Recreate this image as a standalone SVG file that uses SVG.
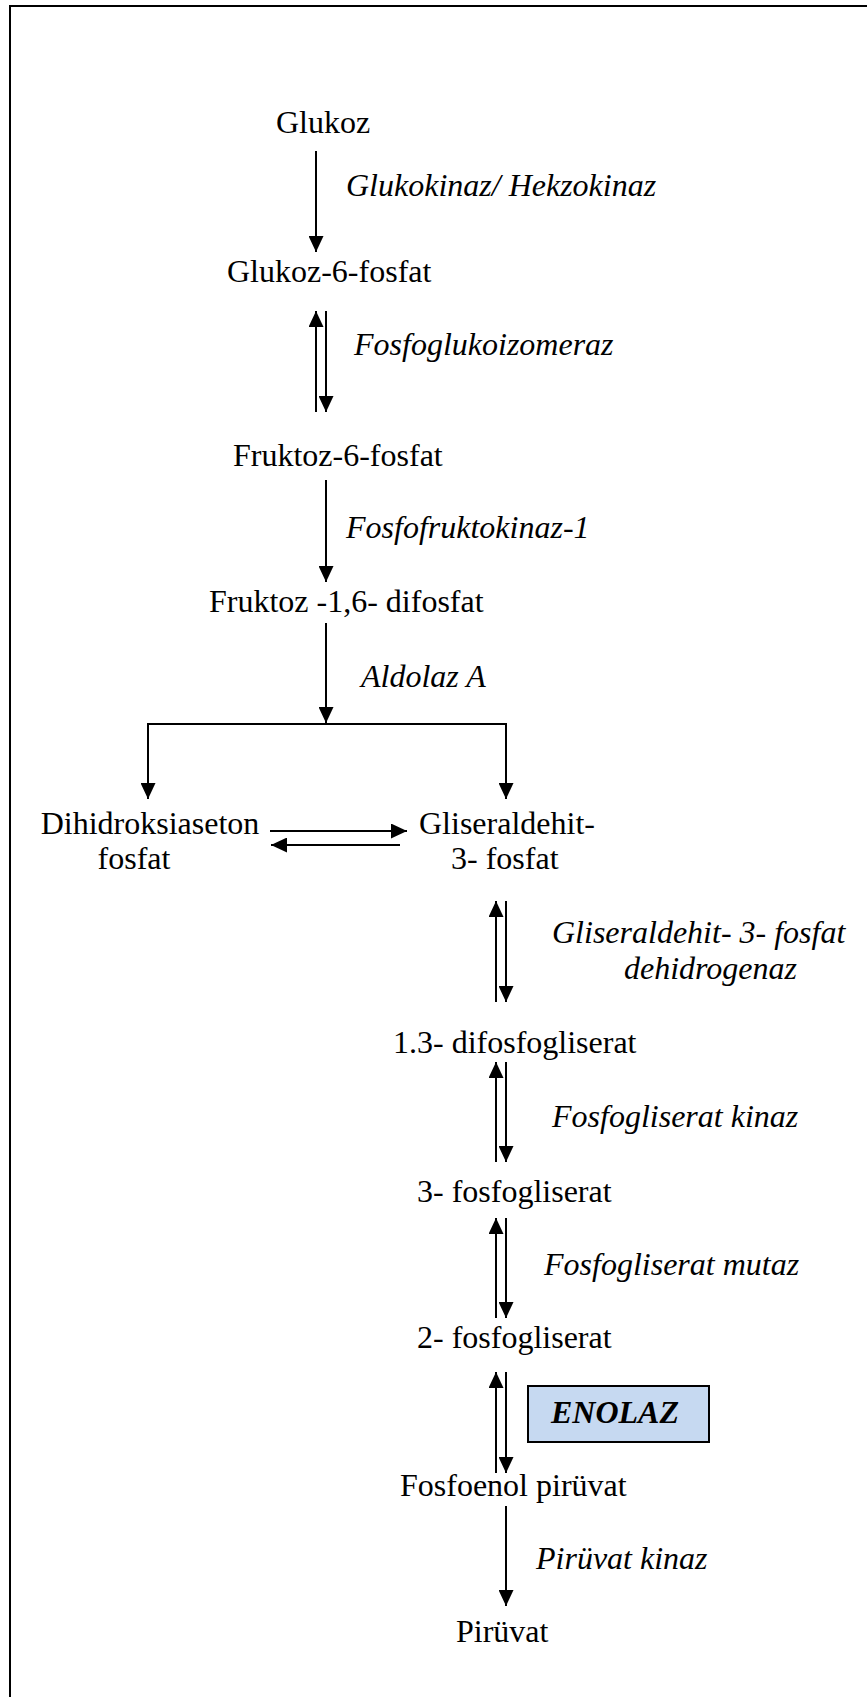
<svg xmlns="http://www.w3.org/2000/svg" width="867" height="1697" viewBox="0 0 867 1697">
<style>
text{font-family:"Liberation Serif","Times New Roman",serif;font-size:32px;fill:#000}
.enz{font-style:italic}
.line{stroke:#000;stroke-width:2;fill:none}
</style>
<defs>
<marker id="ah" viewBox="0 0 16 15" refX="16" refY="7.5" markerWidth="16" markerHeight="15" markerUnits="userSpaceOnUse" orient="auto">
<path d="M0,0 L16,7.5 L0,15 Z" fill="#000"/>
</marker>
</defs>
<rect x="10" y="6" width="900" height="1750" fill="#fff" stroke="#000" stroke-width="2"/>
<g id="glukoz"><text x="276" y="133">Glukoz</text></g>
<g id="g6p"><text x="227" y="282">Glukoz-6-fosfat</text></g>
<g id="f6p"><text x="233" y="466">Fruktoz-6-fosfat</text></g>
<g id="f16bp"><text x="209" y="612">Fruktoz -1,6- difosfat</text></g>
<g id="dhap"><text x="150" y="834" text-anchor="middle">Dihidroksiaseton</text><text x="134" y="869" text-anchor="middle">fosfat</text></g>
<g id="g3p"><text x="419" y="834">Gliseraldehit-</text><text x="451" y="869">3- fosfat</text></g>
<g id="bpg"><text x="393" y="1053">1.3- difosfogliserat</text></g>
<g id="pg3"><text x="417" y="1202">3- fosfogliserat</text></g>
<g id="pg2"><text x="417" y="1348">2- fosfogliserat</text></g>
<g id="pep"><text x="400" y="1496">Fosfoenol pirüvat</text></g>
<g id="piruvat"><text x="456" y="1642">Pirüvat</text></g>
<g id="enzymes">
<text class="enz" x="346" y="196">Glukokinaz/ Hekzokinaz</text>
<text class="enz" x="354" y="355">Fosfoglukoizomeraz</text>
<text class="enz" x="346" y="538">Fosfofruktokinaz-1</text>
<text class="enz" x="361" y="687">Aldolaz A</text>
<text class="enz" x="552" y="943">Gliseraldehit- 3- fosfat</text>
<text class="enz" x="624" y="979">dehidrogenaz</text>
<text class="enz" x="552" y="1127">Fosfogliserat kinaz</text>
<text class="enz" x="544" y="1275">Fosfogliserat mutaz</text>
<text class="enz" x="536" y="1569">Pirüvat kinaz</text>
</g>
<g id="enolaz">
<rect x="528" y="1386" width="181" height="56" fill="#c6d9f1" stroke="#000" stroke-width="2"/>
<text x="551" y="1423" font-weight="bold" font-style="italic">ENOLAZ</text>
</g>
<g id="connectors">
<line class="line" x1="316" y1="151" x2="316" y2="252" marker-end="url(#ah)"/>
<line class="line" x1="316" y1="412" x2="316" y2="311" marker-end="url(#ah)"/>
<line class="line" x1="326" y1="311" x2="326" y2="412" marker-end="url(#ah)"/>
<line class="line" x1="326" y1="480" x2="326" y2="582" marker-end="url(#ah)"/>
<line class="line" x1="326" y1="623" x2="326" y2="723" marker-end="url(#ah)"/>
<polyline class="line" points="148,799 148,724 506,724 506,799"/>
<line class="line" x1="148" y1="724" x2="148" y2="799" marker-end="url(#ah)"/>
<line class="line" x1="506" y1="724" x2="506" y2="799" marker-end="url(#ah)"/>
<line class="line" x1="270" y1="831" x2="407" y2="831" marker-end="url(#ah)"/>
<line class="line" x1="400" y1="845" x2="271" y2="845" marker-end="url(#ah)"/>
<line class="line" x1="496" y1="1002" x2="496" y2="901" marker-end="url(#ah)"/>
<line class="line" x1="506" y1="901" x2="506" y2="1002" marker-end="url(#ah)"/>
<line class="line" x1="496" y1="1162" x2="496" y2="1062" marker-end="url(#ah)"/>
<line class="line" x1="506" y1="1062" x2="506" y2="1162" marker-end="url(#ah)"/>
<line class="line" x1="496" y1="1318" x2="496" y2="1218" marker-end="url(#ah)"/>
<line class="line" x1="506" y1="1218" x2="506" y2="1318" marker-end="url(#ah)"/>
<line class="line" x1="496" y1="1473" x2="496" y2="1372" marker-end="url(#ah)"/>
<line class="line" x1="506" y1="1372" x2="506" y2="1473" marker-end="url(#ah)"/>
<line class="line" x1="506" y1="1506" x2="506" y2="1606" marker-end="url(#ah)"/>
</g>
</svg>
